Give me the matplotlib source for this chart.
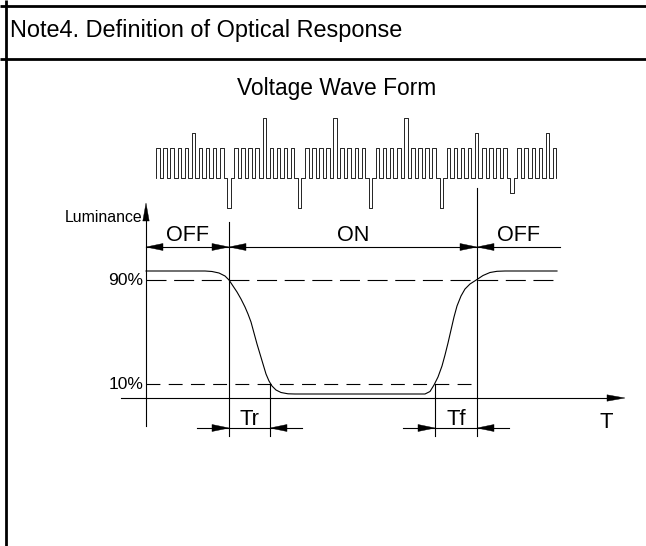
import matplotlib
matplotlib.use('Agg')
import matplotlib.pyplot as plt
from matplotlib.patches import Polygon

plt.rcParams['font.family'] = ['Liberation Sans', 'DejaVu Sans']
plt.rcParams['lines.scale_dashes'] = False

W, H = 646, 546

# ---- data ----
title = 'Note4. Definition of Optical Response'
wave_title = 'Voltage Wave Form'

# voltage wave form: pulse train, special pulses given by index and level (V)
n_pulses = 57
up_index = [5, 15, 25, 35, 45, 55]
up_volts = [1.5, 2.0, 2.0, 2.0, 1.5, 1.5]
down_index = [10, 20, 30, 40, 50]
down_volts = [-1.0, -1.0, -1.0, -1.0, -0.5]

# luminance response curve (pixel coords of the drawing)
lum_x = [146, 205, 212, 219, 225, 229, 233, 237, 241, 245, 248, 251, 254, 257,
         260, 263, 266, 269, 272, 276, 281, 288, 295,
         425, 430, 434, 438, 442, 445, 448, 451, 454, 457, 461, 465, 470, 477,
         483, 490, 497, 505, 557]
lum_y = [271, 271, 271.5, 273, 276, 280, 286, 292, 299, 307, 314, 322, 333, 344,
         354, 364, 374, 381, 386, 390, 392.5, 393.8, 394,
         394, 391.5, 385, 377, 366, 355, 343, 330, 317, 306, 296, 289, 284, 279.5,
         275.5, 272.5, 271.3, 271, 271]

level_labels = ['90%', '10%']
level_y = [280, 384]
level_end = [556, 475]

state_labels = ['OFF', 'ON', 'OFF']
state_edges = [146, 229, 477, 560]

resp_labels = ['Tr', 'Tf']
resp_edges = [(229, 270), (435, 477)]

# ---- layout ----
WAVE_X0, WAVE_P = 156.3, 7.08
WAVE_Y0, WAVE_SCALE = 178, 30
AX_X, AX_Y = 146, 398
LW = 0.8


def arrow_head(ax, tip, direction, length=17, half=3.5):
    x, y = tip
    dx, dy = direction
    bx, by = x - dx * length, y - dy * length
    px, py = -dy * half, dx * half
    ax.add_patch(Polygon([(x, y), (bx + px, by + py), (bx - px, by - py)],
                         closed=True, facecolor='black', edgecolor='black', lw=0.3))


fig = plt.figure(figsize=(W / 100, H / 100), dpi=100)
ax = fig.add_axes([0, 0, 1, 1])
ax.set_xlim(0, W)
ax.set_ylim(H, 0)
ax.axis('off')

# table frame
for yy in (6, 59):
    ax.plot([0, W], [yy, yy], color='black', lw=2.0, solid_capstyle='butt')
ax.plot([6, 6], [0, H], color='black', lw=2.0, solid_capstyle='butt')

ax.text(10, 37, title, fontsize=16.9, va='baseline', ha='left')
ax.text(337, 95, wave_title, fontsize=16.4, va='baseline', ha='center')

# voltage wave form
levels = [1.0] * n_pulses
for i, v in zip(up_index, up_volts):
    levels[i] = v
for i, v in zip(down_index, down_volts):
    levels[i] = v
wx, wy = [], []
for k, v in enumerate(levels):
    xa = WAVE_X0 + k * WAVE_P
    xb = xa + WAVE_P / 2
    wx += [xa, xa, xb, xb]
    wy += [0, v, v, 0]
ax.plot(wx, [WAVE_Y0 - WAVE_SCALE * v for v in wy], color='black', lw=0.6)

# axes of the luminance diagram
ax.plot([AX_X, AX_X], [426, 215], color='black', lw=LW)
arrow_head(ax, (AX_X, 203), (0, -1), length=18, half=3.2)
ax.text(142, 222, 'Luminance', fontsize=11.4, ha='right', va='baseline')
ax.plot([121, 610], [AX_Y, AX_Y], color='black', lw=LW)
arrow_head(ax, (625, AX_Y), (1, 0), length=18, half=3.2)
ax.text(606.5, 428, 'T', fontsize=15.8, ha='center', va='baseline')

# 90% / 10% levels
for lab, yy, xe, dash in zip(level_labels, level_y, level_end, [(14.4, 5.5), (10, 6)]):
    ax.plot([AX_X, xe], [yy, yy], color='black', lw=LW, dashes=dash)
    ax.text(143, yy + 5, lab, fontsize=12.6, ha='right', va='baseline')

# luminance curve
ax.plot(lum_x, lum_y, color='black', lw=LW)

# state boundaries
ax.plot([state_edges[1]] * 2, [222, 436], color='black', lw=LW)
ax.plot([state_edges[2]] * 2, [188, 436], color='black', lw=LW)

# OFF / ON dimension line
ax.plot([state_edges[0], state_edges[-1]], [247, 247], color='black', lw=LW)
for i, lab in enumerate(state_labels):
    a, b = state_edges[i], state_edges[i + 1]
    arrow_head(ax, (a, 247), (-1, 0))
    if i < 2:
        arrow_head(ax, (b, 247), (1, 0))
    ax.text((a + b) / 2, 241, lab, fontsize=15.6, ha='center', va='baseline')

# Tr / Tf response times
for lab, (a, b) in zip(resp_labels, resp_edges):
    ax.plot([a - 32, b + 32], [428, 428], color='black', lw=LW)
    if lab == 'Tr':
        ax.plot([b, b], [384, 436], color='black', lw=LW)
    else:
        ax.plot([a, a], [384, 436], color='black', lw=LW)
    arrow_head(ax, (a, 428), (1, 0))
    arrow_head(ax, (b, 428), (-1, 0))
    ax.text((a + b) / 2, 425, lab, fontsize=15.8, ha='center', va='baseline')

fig.savefig('out.png', dpi=100)
